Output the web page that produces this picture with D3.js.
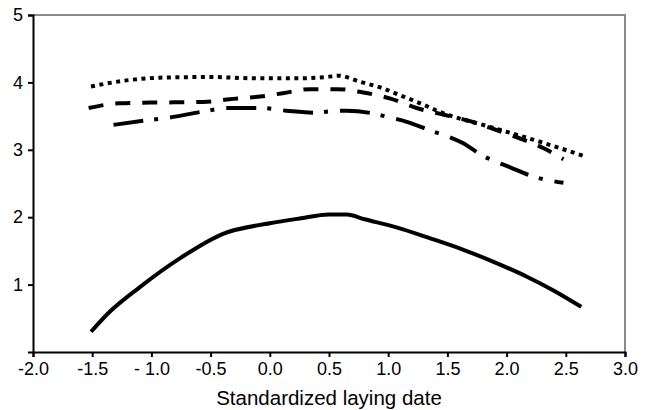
<!DOCTYPE html>
<html>
<head>
<meta charset="utf-8">
<script src="https://cdn.jsdelivr.net/npm/d3@7"></script>
<style>
  body { margin: 0; background: #fff; }
  text { font-family: "Liberation Sans", Arial, sans-serif; fill: #000; }
</style>
</head>
<body>
<div id="chart"></div>
<script>
// values
const xTicks = [-2.0, -1.5, -1.0, -0.5, 0.0, 0.5, 1.0, 1.5, 2.0, 2.5, 3.0]
const xTickLabels = ["-2.0", "-1.5", "- 1.0", "-0.5", "0.0", "0.5", "1.0", "1.5", "2.0", "2.5", "3.0"]
const yTicks = [1, 2, 3, 4, 5]

const solidX = [-1.51, -1.35, -1.1, -0.75, -0.4, 0.0, 0.25, 0.5, 0.65, 0.8, 1.07, 1.35, 1.63, 1.9, 2.18, 2.4, 2.63]
const solidY = [0.30, 0.60, 0.96, 1.40, 1.75, 1.91, 1.98, 2.04, 2.04, 1.97, 1.85, 1.69, 1.52, 1.33, 1.11, 0.91, 0.67]

const dottedX = [-1.51, -1.21, -0.93, -0.51, -0.11, 0.2, 0.48, 0.58, 0.76, 0.96, 1.10, 1.27, 1.44, 1.86, 2.28, 2.65]
const dottedY = [3.94, 4.03, 4.07, 4.08, 4.06, 4.06, 4.08, 4.10, 4.01, 3.91, 3.81, 3.69, 3.56, 3.34, 3.12, 2.91]

const dashedX = [-1.53, -1.27, -1.01, -0.56, -0.34, -0.08, 0.11, 0.34, 0.57, 0.79, 1.02, 1.24, 1.47, 1.66, 1.92, 2.14, 2.34, 2.48]
const dashedY = [3.62, 3.69, 3.70, 3.71, 3.75, 3.79, 3.84, 3.90, 3.90, 3.85, 3.76, 3.62, 3.52, 3.44, 3.29, 3.15, 3.00, 2.86]

const dashDotX = [-1.32, -1.07, -0.84, -0.59, -0.34, -0.08, 0.14, 0.37, 0.51, 0.65, 0.87, 0.99, 1.11, 1.35, 1.63, 1.79, 2.03, 2.23, 2.35, 2.48]
const dashDotY = [3.37, 3.43, 3.48, 3.56, 3.62, 3.62, 3.58, 3.55, 3.57, 3.58, 3.54, 3.49, 3.44, 3.29, 3.10, 2.92, 2.74, 2.60, 2.55, 2.51]

const width = 648
const height = 410
const margin = {top: 15, right: 23, bottom: 58, left: 33}

const svg = d3.select("#chart").append("svg")
    .attr("width", width)
    .attr("height", height)

const x = d3.scaleLinear().domain([-2, 3]).range([margin.left, width - margin.right])
const y = d3.scaleLinear().domain([0, 5]).range([height - margin.bottom, margin.top])

// gray frame on top and right
svg.append("path")
    .attr("d", "M" + x(-2) + "," + y(5) + "H" + x(3) + "V" + y(0))
    .attr("fill", "none")
    .attr("stroke", "#8a8a8a")
    .attr("stroke-width", 2)

const xAxis = svg.append("g")
    .attr("transform", "translate(0," + y(0) + ")")
    .call(d3.axisBottom(x).tickValues(xTicks).tickSize(5).tickPadding(5)
        .tickFormat(function(d, i){ return xTickLabels[i] }))
xAxis.select(".domain").attr("stroke", "#000").attr("stroke-width", 2)
xAxis.selectAll(".tick line").attr("stroke-width", 2)
xAxis.selectAll("text").style("font-size", "18px")

const yAxis = svg.append("g")
    .attr("transform", "translate(" + x(-2) + ",0)")
    .call(d3.axisLeft(y).tickValues(yTicks).tickSize(5).tickPadding(5).tickFormat(d3.format("d")))
yAxis.select(".domain").attr("stroke", "#000").attr("stroke-width", 2)
yAxis.selectAll(".tick line").attr("stroke-width", 2)
yAxis.selectAll("text").style("font-size", "18px")

svg.append("text")
    .attr("x", (x(-2) + x(3)) / 2)
    .attr("y", 405)
    .attr("text-anchor", "middle")
    .style("font-size", "20.5px")
    .text("Standardized laying date")

const line = d3.line()
    .x(function(d){ return x(d[0]) })
    .y(function(d){ return y(d[1]) })
    .curve(d3.curveMonotoneX)

const series = [
    {xs: solidX, ys: solidY, dash: null},
    {xs: dottedX, ys: dottedY, dash: "4,4.5"},
    {xs: dashedX, ys: dashedY, dash: "15,12"},
    {xs: dashDotX, ys: dashDotY, dash: "30,11,4,12"}
]

series.forEach(function(s){
    svg.append("path")
        .datum(s.xs.map(function(v, i){ return [v, s.ys[i]] }))
        .attr("d", line)
        .attr("fill", "none")
        .attr("stroke", "#000")
        .attr("stroke-width", 4)
        .attr("stroke-dasharray", s.dash)
})
</script>
</body>
</html>
